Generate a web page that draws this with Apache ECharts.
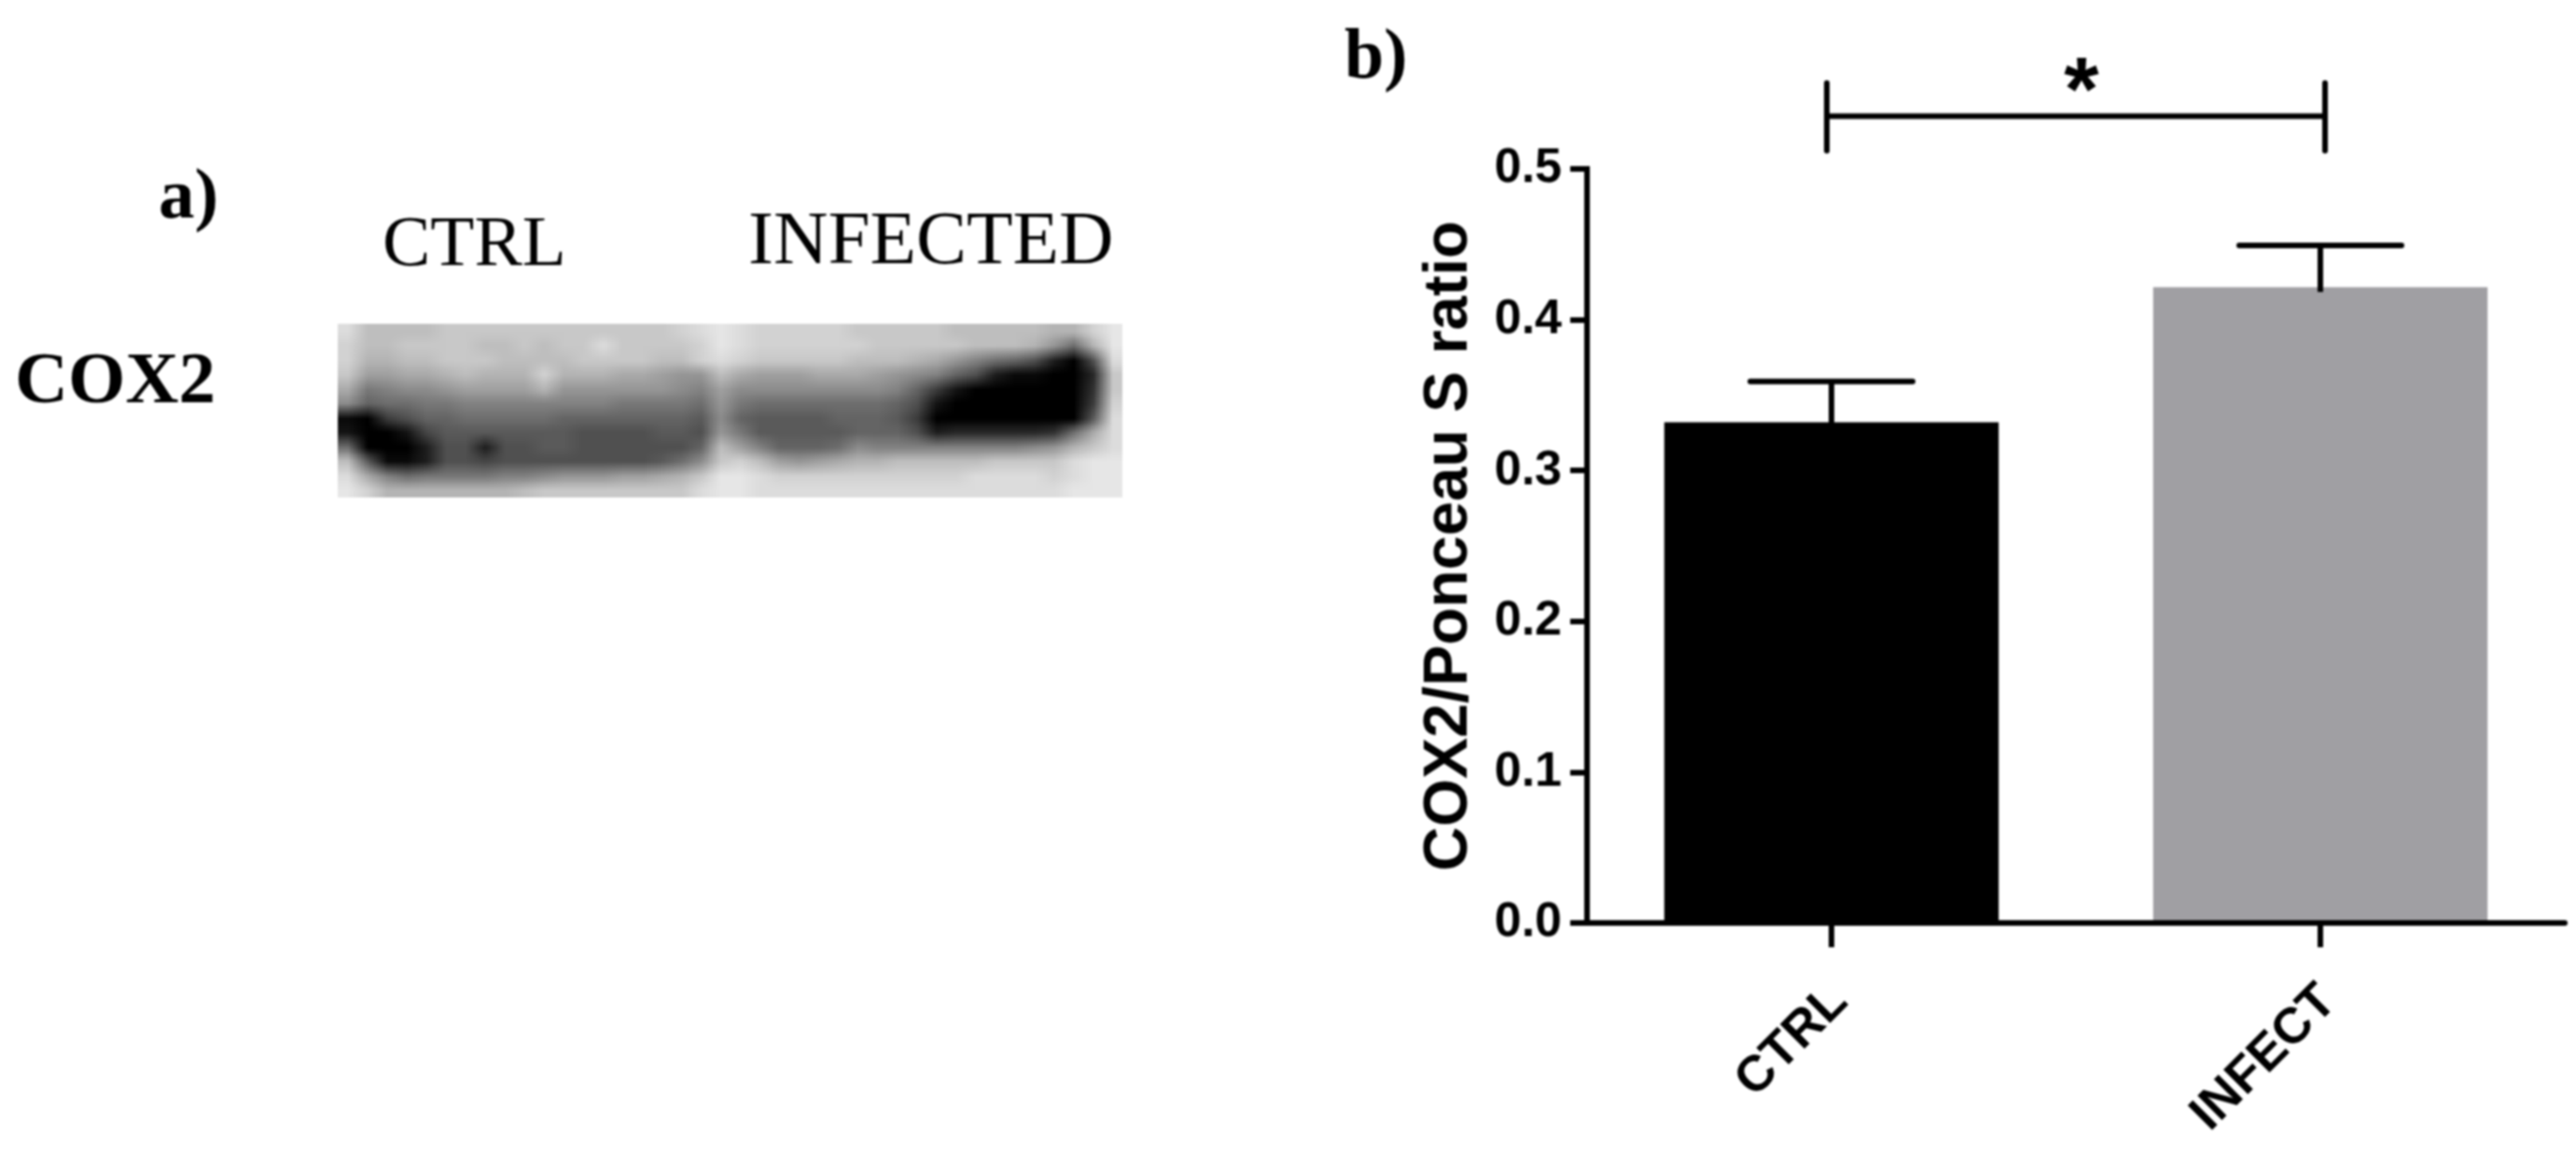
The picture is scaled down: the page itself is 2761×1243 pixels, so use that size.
<!DOCTYPE html>
<html>
<head>
<meta charset="utf-8">
<title>COX2</title>
<script src="https://cdn.jsdelivr.net/npm/echarts@6/dist/echarts.min.js"></script>
<style>
html,body{margin:0;padding:0;background:#fff;}
#chart{width:2761px;height:1243px;filter:blur(0.9px);}
</style>
</head>
<body>
<div id="chart"></div>
<script>
const categories = ['CTRL', 'INFECT'];
const barValues = [0.332, 0.4215];
const errorTops = [0.359, 0.4493];
const barColors = ['#000000', '#a09fa3'];
const yTickLabels = ['0.0', '0.1', '0.2', '0.3', '0.4', '0.5'];
const yAxisTitle = 'COX2/Ponceau S ratio';
const bracketLevel = [0.535];
const bracketEnds = [0.512, 0.557];
const bracketLabel = '*';

// Western blot panel: grey levels (tens of 0-255)
const blotRow0  = [22,19,19,19,19,20,20,20,20,20,20,20,20,20,20,20,20,21,22,23,22,21,21,21,21,21,20,20,20,20,20,19,19,19,19,19,18,18,21,23];
const blotRow1  = [21,19,19,20,20,20,20,19,19,20,19,20,20,22,20,20,20,20,21,23,22,21,21,21,21,21,21,20,20,20,20,20,19,19,19,18,15,11,18,23];
const blotRow2  = [21,18,18,19,19,20,20,20,19,19,19,19,20,20,20,20,19,19,21,22,21,20,20,20,20,20,19,19,19,18,17,15,13,11,10,8,3,0,8,22];
const blotRow3  = [20,16,16,17,17,18,19,18,18,18,21,18,18,18,17,17,16,15,15,19,17,16,16,16,17,17,17,16,15,14,13,10,8,3,1,1,0,0,4,20];
const blotRow4  = [17,12,13,14,14,15,16,16,16,16,18,15,15,15,15,15,15,14,13,16,14,14,14,14,14,14,14,14,13,10,6,2,0,0,0,0,0,0,5,20];
const blotRow5  = [14,10,11,11,12,12,13,13,13,13,13,13,13,13,12,12,12,12,11,15,12,11,11,11,11,11,11,11,10,8,2,0,0,0,0,0,0,0,6,21];
const blotRow6  = [1,0,6,8,10,10,11,11,11,11,11,10,10,10,10,10,10,10,9,14,10,9,9,9,9,10,10,10,9,6,0,0,0,0,0,0,0,0,9,22];
const blotRow7  = [2,0,0,2,7,9,9,9,9,9,9,9,8,8,8,8,9,9,8,15,12,9,9,9,9,9,10,10,10,8,3,4,4,4,4,4,5,11,17,22];
const blotRow8  = [11,0,0,0,3,8,8,3,8,8,9,9,8,8,8,8,8,8,10,19,16,13,10,10,10,11,14,13,13,13,13,13,13,13,13,14,15,18,20,22];
const blotRow9  = [19,9,1,1,3,8,8,7,8,8,8,8,8,8,8,8,9,11,14,20,21,19,16,15,16,17,18,18,19,19,19,19,19,20,20,20,20,22,23,23];
const blotRow10 = [22,17,13,11,12,12,12,12,13,13,14,15,15,15,16,16,17,18,20,23,23,22,21,21,21,21,21,21,21,21,21,21,22,22,22,22,21,22,23,23];
const blotRow11 = [23,21,18,18,18,18,18,18,18,19,20,20,20,20,20,20,20,20,22,23,23,22,22,22,22,22,22,22,22,22,22,22,22,22,22,22,22,23,23,23];
const blotRows = [blotRow0,blotRow1,blotRow2,blotRow3,blotRow4,blotRow5,blotRow6,blotRow7,blotRow8,blotRow9,blotRow10,blotRow11];

const SANS = '"Liberation Sans", Arial, sans-serif';
const SERIF = '"Liberation Serif", "Times New Roman", serif';

function blotCanvas() {
  const nx = blotRows[0].length, ny = blotRows.length;
  const c = document.createElement('canvas');
  c.width = nx; c.height = ny;
  const ctx = c.getContext('2d');
  const img = ctx.createImageData(nx, ny);
  blotRows.forEach((row, j) => row.forEach((v, i) => {
    const k = (j * nx + i) * 4, g = Math.min(255, v * 10);
    img.data[k] = g; img.data[k + 1] = g; img.data[k + 2] = g; img.data[k + 3] = 255;
  }));
  ctx.putImageData(img, 0, 0);
  return c;
}
const blotImage = blotCanvas();

const chart = echarts.init(document.getElementById('chart'), null, {renderer: 'canvas'});

chart.setOption({
  animation: false,
  backgroundColor: '#ffffff',
  textStyle: {fontFamily: SANS},
  grid: [
    {left: 1701, top: 181, width: 1048, height: 808},
    {left: 362, top: 347, width: 841, height: 186}
  ],
  xAxis: [
    {
      type: 'category', gridIndex: 0, data: categories, z: 3,
      axisLine: {show: true, lineStyle: {color: '#000', width: 6}},
      axisTick: {show: true, alignWithLabel: true, length: 26, lineStyle: {color: '#000', width: 6}},
      axisLabel: {rotate: 45, margin: 67, verticalAlign: 'top', lineHeight: 25, color: '#000', fontFamily: SANS, fontWeight: 'bold', fontSize: 54},
      splitLine: {show: false}
    },
    {type: 'value', gridIndex: 1, min: 0, max: blotRows[0].length, show: false}
  ],
  yAxis: [
    {
      type: 'value', gridIndex: 0, min: 0, max: 0.5, interval: 0.1, z: 3,
      name: yAxisTitle, nameLocation: 'middle', nameGap: 114,
      nameTextStyle: {color: '#000', fontFamily: SANS, fontWeight: 'bold', fontSize: 66},
      axisLine: {show: true, lineStyle: {color: '#000', width: 6, cap: 'square'}},
      axisTick: {show: true, length: 18, lineStyle: {color: '#000', width: 6}},
      axisLabel: {
        margin: 27, color: '#000', fontFamily: SANS, fontWeight: 'bold', fontSize: 52,
        formatter: (v) => yTickLabels[Math.round(v * 10)]
      },
      splitLine: {show: false}
    },
    {type: 'value', gridIndex: 1, min: 0, max: blotRows.length, inverse: true, show: false}
  ],
  series: [
    {
      type: 'bar', xAxisIndex: 0, yAxisIndex: 0, barWidth: '68.4%', z: 2,
      data: barValues.map((v, i) => ({value: v, itemStyle: {color: barColors[i]}}))
    },
    {
      // error bars
      type: 'custom', xAxisIndex: 0, yAxisIndex: 0, z: 5,
      data: categories.map((c, i) => [i, barValues[i], errorTops[i]]),
      renderItem: (params, api) => {
        const top = api.coord([api.value(0), api.value(2)]);
        const base = api.coord([api.value(0), api.value(1)]);
        const half = api.size([1, 0])[0] * 0.166;
        const style = {stroke: '#000', lineWidth: 6, fill: null};
        return {type: 'group', children: [
          {type: 'line', shape: {x1: top[0], y1: top[1], x2: top[0], y2: base[1] + 5}, style},
          {type: 'line', shape: {x1: top[0] - half, y1: top[1], x2: top[0] + half, y2: top[1]}, style: {stroke: '#000', lineWidth: 6, lineCap: 'round'}}
        ]};
      }
    },
    {
      // significance bracket
      type: 'custom', xAxisIndex: 0, yAxisIndex: 0, z: 5,
      data: [[0, 1, bracketLevel[0], bracketEnds[0], bracketEnds[1]]],
      renderItem: (params, api) => {
        const a = api.coord([api.value(0), api.value(2)]);
        const b = api.coord([api.value(1), api.value(2)]);
        const lo = api.coord([0, api.value(3)])[1];
        const hi = api.coord([0, api.value(4)])[1];
        const xa = a[0] - 5, xb = b[0] + 5;
        const style = {stroke: '#000', lineWidth: 6, lineCap: 'round'};
        return {type: 'group', children: [
          {type: 'line', shape: {x1: xa, y1: a[1], x2: xb, y2: a[1]}, style},
          {type: 'line', shape: {x1: xa, y1: lo, x2: xa, y2: hi}, style},
          {type: 'line', shape: {x1: xb, y1: lo, x2: xb, y2: hi}, style},
          {type: 'text', style: {
            x: (xa + xb) / 2 + 6, y: a[1] - 23, text: bracketLabel, fill: '#000',
            font: 'bold 96px "Liberation Sans", Arial, sans-serif', textAlign: 'center', textVerticalAlign: 'middle'
          }}
        ]};
      }
    },
    {
      // Western blot photograph
      type: 'custom', xAxisIndex: 1, yAxisIndex: 1, z: 1,
      data: [[0, 0, blotRows[0].length, blotRows.length]],
      renderItem: (params, api) => {
        const p0 = api.coord([api.value(0), api.value(1)]);
        const p1 = api.coord([api.value(2), api.value(3)]);
        return {type: 'image', style: {image: blotImage, x: p0[0], y: p0[1], width: p1[0] - p0[0], height: p1[1] - p0[1]}};
      }
    }
  ],
  graphic: [
    {type: 'text', left: 170, top: 175, style: {text: 'a)', fill: '#000', font: 'bold 77px ' + SERIF}},
    {type: 'text', left: 1441, top: 25, style: {text: 'b)', fill: '#000', font: 'bold 76px ' + SERIF}},
    {type: 'text', left: 410, top: 225, style: {text: 'CTRL', fill: '#000', font: '77px ' + SERIF}},
    {type: 'text', left: 802, top: 220, style: {text: 'INFECTED', fill: '#000', font: '81px ' + SERIF}},
    {type: 'text', left: 16, top: 371, style: {text: 'COX2', fill: '#000', font: 'bold 79px ' + SERIF}}
  ]
});
</script>
</body>
</html>
